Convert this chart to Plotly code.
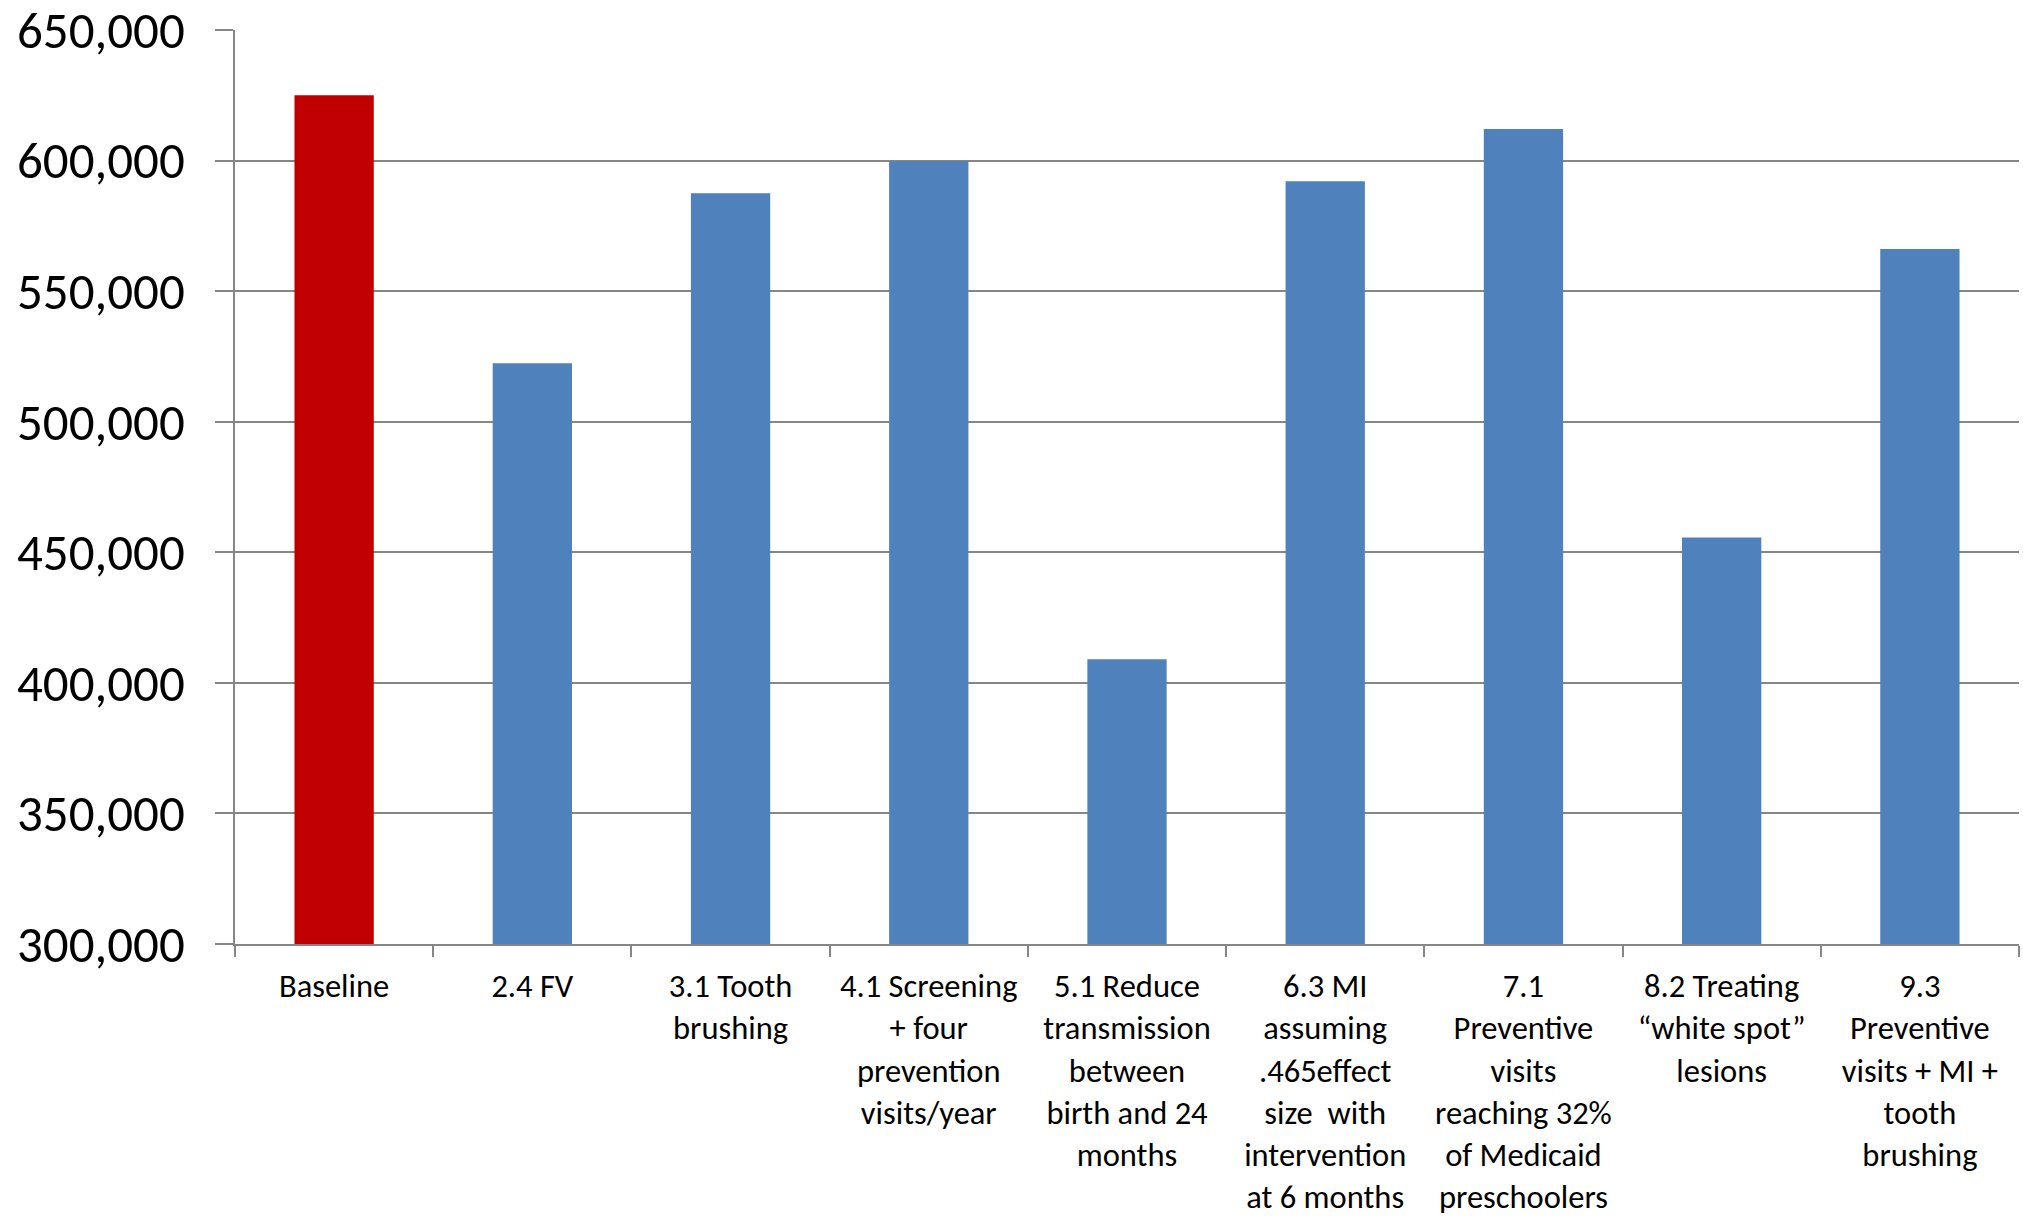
import plotly.graph_objects as go

categories = [
    "Baseline",
    "2.4 FV",
    "3.1 Tooth<br>brushing",
    "4.1 Screening<br>+ four<br>prevention<br>visits/year",
    "5.1 Reduce<br>transmission<br>between<br>birth and 24<br>months",
    "6.3 MI<br>assuming<br>.465effect<br>size  with<br>intervention<br>at 6 months",
    "7.1<br>Preventive<br>visits<br>reaching 32%<br>of Medicaid<br>preschoolers",
    "8.2 Treating<br>\u201cwhite spot\u201d<br>lesions",
    "9.3<br>Preventive<br>visits + MI +<br>tooth<br>brushing",
]
values = [625000, 522400, 587500, 599700, 409000, 592100, 612100, 455700, 566100]
bar_colors = ["#C00000"] + ["#4F81BD"] * 8
y_ticks = [300000, 350000, 400000, 450000, 500000, 550000, 600000, 650000]
y_tick_labels = ["300,000", "350,000", "400,000", "450,000", "500,000", "550,000", "600,000", "650,000"]

FONT = "Carlito, Lato, 'Open Sans', sans-serif"
GRID = "#868686"

fig = go.Figure(
    go.Bar(x=categories, y=values, marker=dict(color=bar_colors, line=dict(width=0)))
)

fig.update_layout(
    width=2023,
    height=1219,
    margin=dict(l=235, r=4, t=30, b=275),
    paper_bgcolor="white",
    plot_bgcolor="white",
    bargap=0.6,
    showlegend=False,
    font=dict(family=FONT, color="black"),
)

fig.update_xaxes(
    type="category",
    automargin=False,
    tickson="boundaries",
    ticks="outside",
    ticklen=11,
    tickwidth=2,
    tickcolor=GRID,
    showline=True,
    linecolor=GRID,
    linewidth=2,
    showgrid=False,
    tickfont=dict(size=32.5, family=FONT, color="black"),
    tickangle=0,
    ticklabelstandoff=12,
    ticklabeloverflow="allow",
)

fig.update_yaxes(
    range=[300000, 650000],
    automargin=False,
    tickvals=y_ticks,
    ticktext=y_tick_labels,
    ticks="outside",
    ticklen=18,
    tickwidth=2,
    tickcolor=GRID,
    showline=True,
    linecolor=GRID,
    linewidth=2,
    showgrid=True,
    gridcolor=GRID,
    gridwidth=2,
    zeroline=False,
    tickfont=dict(size=51, family=FONT, color="black"),
    ticklabelstandoff=20,
    ticklabeloverflow="allow",
)

fig.write_html("out.html")
